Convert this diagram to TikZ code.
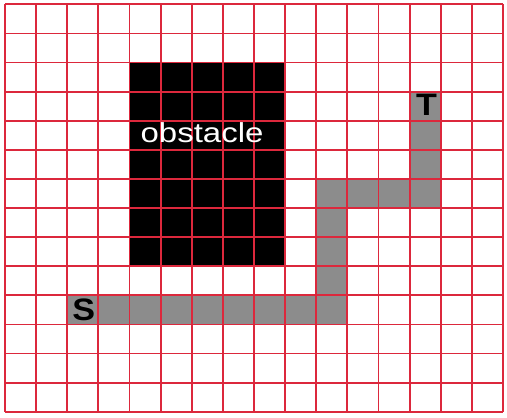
\documentclass[tikz,border=0pt]{standalone}
\usepackage{fontspec}
\setmainfont{Liberation Sans}
\definecolor{gridred}{RGB}{220,40,60}
\definecolor{pathgray}{RGB}{140,140,140}
\tikzset{
  gridline/.style={draw=gridred, line width=1.8pt},
  pathcell/.style={fill=pathgray},
  obstaclefill/.style={fill=black},
  biglabel/.style={inner sep=0pt, anchor=base, font=\bfseries\fontsize{31}{34}\selectfont, text=black},
  obslabel/.style={inner sep=0pt, anchor=base, font=\fontsize{27.5}{30}\selectfont, text=white}
}
\begin{document}
\begin{tikzpicture}[x=1pt,y=-1pt]
\useasboundingbox (0,0) rectangle (507,418);
\begin{scope}[shift={(5,4.3)}, x=31.125pt, y=-29.1pt]
  % path cells
  \fill[pathcell] (2,10) rectangle (11,11);
  \fill[pathcell] (10,6) rectangle (11,11);
  \fill[pathcell] (10,6) rectangle (14,7);
  \fill[pathcell] (13,3) rectangle (14,7);
  % obstacle
  \fill[obstaclefill] (4,2) rectangle (9,9);
  % grid
  \foreach \i in {0,...,16} \draw[gridline] (\i,0) -- (\i,14);
  \foreach \j in {0,...,14} \draw[gridline] (0,\j) -- (16,\j);
  % labels
  \node[obslabel] (obs) at (6.33,4.756) {\scalebox{1.2}[1]{obstacle}};
  \node[biglabel] (S) at (2.53,10.88) {\scalebox{1.1}[1]{S}};
  \node[biglabel] (T) at (13.54,3.815) {\scalebox{1.1}[1]{T}};
\end{scope}
\end{tikzpicture}
\end{document}
